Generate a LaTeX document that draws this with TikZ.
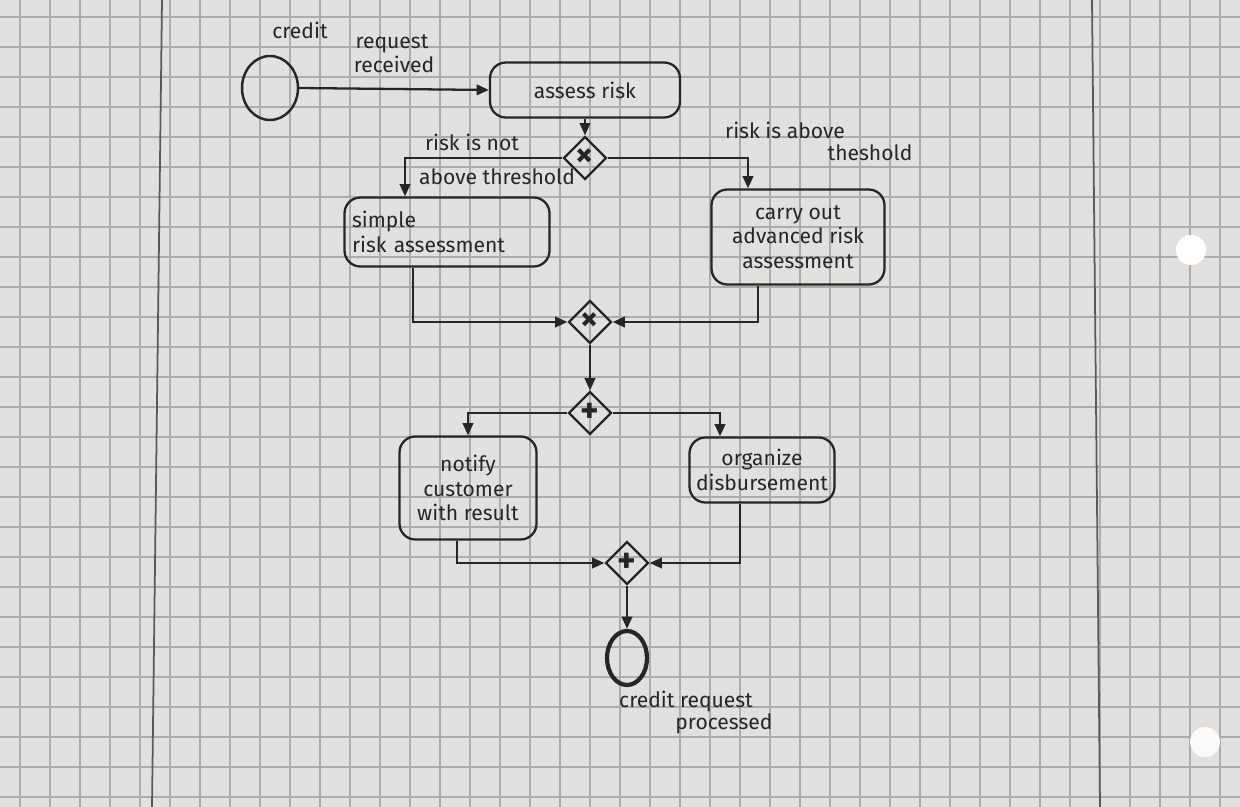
\documentclass[tikz,border=0pt]{standalone}
\usepackage{fontspec}
\setmainfont{Fira Sans}
\usetikzlibrary{shapes.geometric,arrows.meta,calc}
\definecolor{paper}{HTML}{E2E0DF}
\definecolor{gridc}{HTML}{ADABAB}
\definecolor{ink}{HTML}{262626}
\tikzset{
  task/.style={draw=ink,line width=1.3pt,rounded corners=9pt,inner sep=2pt,font=\fontsize{12}{14}\selectfont,text=ink},
  gate/.style={draw=ink,line width=1.3pt,diamond,aspect=1,minimum width=0.86cm,minimum height=0.86cm,inner sep=0pt,text=ink,font=\fontsize{20}{20}\selectfont\bfseries},
  evt/.style={draw=ink,line width=1.4pt,ellipse,inner sep=0pt},
  lbl/.style={font=\fontsize{12}{14}\selectfont,text=ink,inner sep=1pt},
  flow/.style={draw=ink,line width=1.3pt,-{Triangle[length=7pt,width=6pt]}},
}
\begin{document}
\begin{tikzpicture}[x=0.02cm,y=-0.02cm]
\useasboundingbox (0,0) rectangle (1240,807);
% paper
\fill[paper] (0,0) rectangle (1240,807);
\foreach \gx in {20,50,...,1240} \draw[gridc,line width=0.6pt] (\gx,0) -- (\gx,807);
\foreach \gy in {17,47,...,807} \draw[gridc,line width=0.6pt] (0,\gy) -- (1240,\gy);
\draw[gray!70!black,line width=1pt] (162,0) -- (152,807);
\draw[gray!70!black,line width=1pt] (1092,0) -- (1100,807);
\fill[white] (1191,250) circle (15);
\fill[white!95!gray] (1205,742) circle (15);
% events
\node[evt,minimum width=1.12cm,minimum height=1.28cm] (start) at (270,88) {};
\node[evt,line width=2.4pt,minimum width=0.8cm,minimum height=1.08cm] (end) at (627,658) {};
% tasks
\node[task,minimum width=3.8cm,minimum height=1.1cm] (risk) at (585,90) {assess risk};
\node[task,minimum width=4.1cm,minimum height=1.38cm,align=left,text width=3.8cm] (simple) at (447,232) {simple\\ risk assessment};
\node[task,minimum width=3.46cm,minimum height=1.9cm,align=center] (adv) at (798,237) {carry out\\advanced risk\\assessment};
\node[task,minimum width=2.74cm,minimum height=2.06cm,align=center] (notify) at (468,488) {notify\\customer\\with result};
\node[task,minimum width=2.9cm,minimum height=1.3cm,align=center] (org) at (762,470) {organize\\disbursement};
% gateways
\node[gate] (g1) at (585,158) {×};
\node[gate] (g2) at (590,322) {×};
\node[gate] (g3) at (590,413) {+};
\node[gate] (g4) at (627,563) {+};
% labels
\node[lbl] (ls1) at (300,30) {credit};
\node[lbl] (ls2) at (392,44) {request};
\node[lbl] (ls3) at (394,64) {received};
\node[lbl] (lnot1) at (472,142) {risk is not};
\node[lbl] (lnot2) at (497,177) {above threshold};
\node[lbl] (labv1) at (785,130) {risk is above};
\node[lbl] (labv2) at (870,153) {theshold};
\node[lbl] (lend1) at (686,702) {credit request};
\node[lbl] (lend2) at (724,724) {processed};
% flows
\draw[flow] (start.east) -- (risk.west);
\draw[flow] (risk.south) -- (g1.north);
\draw[flow] (g1.west) -| ([xshift=-0.84cm]simple.north);
\draw[flow] (g1.east) -| ([xshift=-1cm]adv.north);
\draw[flow] ([xshift=-0.68cm]simple.south) |- (g2.west);
\draw[flow] ([xshift=-0.8cm]adv.south) |- (g2.east);
\draw[flow] (g2.south) -- (g3.north);
\draw[flow] (g3.west) -| (notify.north);
\draw[flow] (g3.east) -| ([xshift=-0.84cm]org.north);
\draw[flow] ([xshift=-0.22cm]notify.south) |- (g4.west);
\draw[flow] ([xshift=-0.44cm]org.south) |- (g4.east);
\draw[flow] (g4.south) -- (end.north);
\end{tikzpicture}
\end{document}
